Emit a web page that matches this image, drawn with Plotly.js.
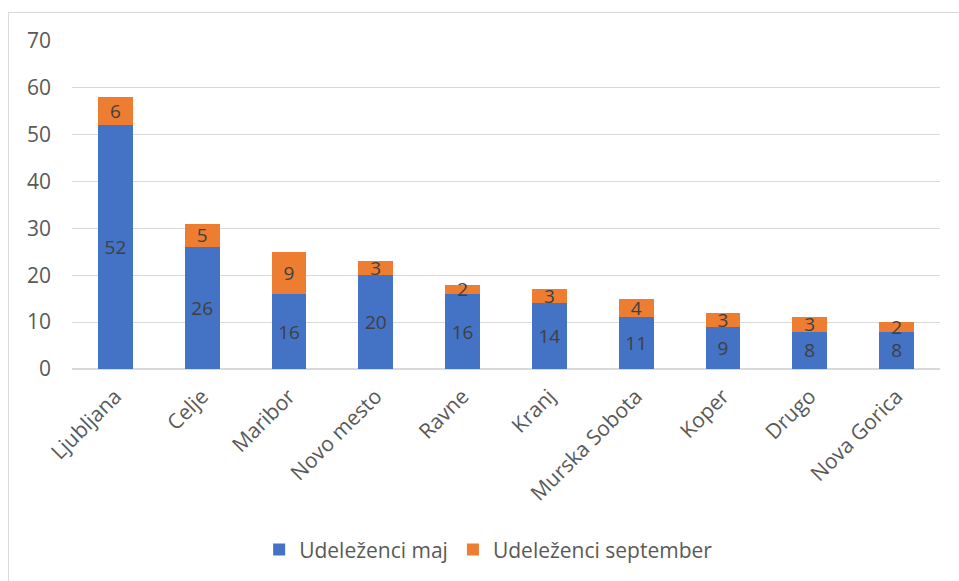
<!DOCTYPE html>
<html><head><meta charset="utf-8">
<script src="https://cdn.plot.ly/plotly-3.0.1.min.js"></script>
<style>
html,body{margin:0;padding:0;background:#fff;}
#wrap{position:relative;width:959px;height:581px;overflow:hidden;}
#chart{position:absolute;left:0;top:0;width:959px;height:581px;}
#frame{position:absolute;left:8px;top:12px;width:1000px;height:700px;border:1px solid #d9d9d9;pointer-events:none;}
</style></head>
<body><div id="wrap"><div id="chart"></div><div id="frame"></div></div>
<script>
const categories = ["Ljubljana","Celje","Maribor","Novo mesto","Ravne","Kranj","Murska Sobota","Koper","Drugo","Nova Gorica"];
const majValues = [52,26,16,20,16,14,11,9,8,8];
const septemberValues = [6,5,9,3,2,3,4,3,3,2];
const seriesNames = ["Udeleženci maj","Udeleženci september"];

const font = "'Open Sans', sans-serif";
function trace(name, vals, color){
  return {type:'bar', name:name, x:categories, y:vals, marker:{color:color},
    text:vals.map(String), textposition:'inside', insidetextanchor:'middle',
    constraintext:'none', textangle:0,
    textfont:{family:font,size:19,color:'#404040'}, hoverinfo:'none'};
}
const data = [trace(seriesNames[0], majValues, '#4472c4'), trace(seriesNames[1], septemberValues, '#ed7d31')];
const layout = {
  width:959, height:581, barmode:'stack', bargap:0.6,
  margin:{l:72,r:19,t:41,b:211},
  paper_bgcolor:'rgba(0,0,0,0)', plot_bgcolor:'#fff',
  font:{family:font,color:'#595959',size:21},
  xaxis:{tickangle:-45, tickfont:{size:21,color:'#595959'}, showgrid:false, showline:false, ticks:'', zeroline:false, ticklabelstandoff:10},
  yaxis:{range:[0,70], dtick:10, gridcolor:'#d9d9d9', gridwidth:1, zeroline:true, zerolinecolor:'#d9d9d9', zerolinewidth:2, ticks:'', tickfont:{size:21,color:'#595959'}, ticklabelstandoff:20},
  legend:{orientation:'h', x:0.48, xanchor:'center', y:-0.547, yanchor:'middle', font:{size:21,color:'#595959'}, itemwidth:30, traceorder:'normal'},
  showlegend:true
};
Plotly.newPlot('chart', data, layout, {displayModeBar:false, staticPlot:true});
</script></body></html>
